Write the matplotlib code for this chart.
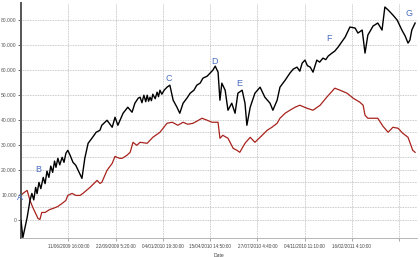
import matplotlib
matplotlib.use("Agg")
import matplotlib.pyplot as plt

# sample index (ticks every 100 samples) and values
black_x = [0, 4, 13, 19, 23, 27, 31, 34, 38, 42, 47, 51, 55, 59, 63, 67, 71, 74, 78, 82, 87, 91, 95, 99, 104, 110, 116,
           121, 125, 129, 135, 142, 150, 159, 167, 171, 182, 193, 199, 205, 216, 226, 235, 241, 248,
           252, 256, 260, 264, 267, 270, 273, 276, 279, 284, 288, 291, 294, 298, 303, 309, 315, 322, 330, 336, 343, 351, 358, 366, 372,
           379, 385, 394, 400, 406, 411, 417, 421, 425, 432, 438, 446, 453, 459, 468, 474, 478, 485, 495, 506, 516, 527, 533, 542, 548, 559, 569,
           576, 584, 590, 595, 601, 606, 612, 618, 626, 632, 639, 645, 650, 658, 664, 671,
           686, 696, 707, 713, 722, 728, 734, 745, 755, 764, 770, 777, 787, 796, 806, 813, 819, 823, 827, 834]
black_y = [-200, -7000, 1000, 7800, 10600, 8000, 13000, 10500, 15000, 12500, 17000, 14500, 19500, 17000, 21500, 19000, 23500, 21000, 24600, 22000, 25000, 23000, 26600, 27800, 25800, 23000, 21800,
           19800, 18200, 16600, 24600, 30600, 32600, 35000, 35800, 37800, 39800, 37000, 41000, 37800, 42600, 45000, 43000, 46600, 48600,
           49000, 46800, 49800, 47200, 49800, 47400, 49000, 47600, 50200, 48400, 51000, 49200, 51800, 50200, 51800, 53000, 53800, 47800, 45000, 42600, 46600, 48600, 50600, 51800, 53800,
           54600, 56600, 57400, 58600, 59800, 61400, 59000, 47800, 54600, 51800, 43800, 46600, 42600, 50600, 51800, 46600, 37800, 45000, 50600, 53000, 49000, 46600, 43800, 47800, 53000, 55800, 58600,
           60200, 61000, 59400, 62600, 63800, 61600, 61000, 59000, 63800, 63000, 64600, 64000, 65400, 66600, 67400, 69000,
           73000, 77000, 76600, 74600, 75800, 66600, 73800, 77400, 78600, 75800, 85000, 83800, 81800, 79800, 75800, 73400, 70600, 71800, 75800, 78600]

red_x = [0, 4, 13, 19, 25, 30, 36, 40, 44, 51, 61, 68, 78, 87, 95, 99, 108, 116, 125, 131, 146,
         161, 167, 171, 182, 193, 199, 203, 209, 214, 224, 231, 237, 245, 252, 267, 279, 294, 309,
         320, 332, 343, 353, 364, 372, 383, 394, 404, 417, 421, 427, 438, 449, 457, 463, 474, 485,
         495, 506, 521, 531, 542, 548, 559, 569, 580, 590, 605, 618, 633, 647, 664, 675, 690, 703,
         717, 724, 728, 734, 745, 755, 766, 777, 787, 798, 808, 819, 829, 834]
red_y = [9800, 10600, 11800, 7800, 5000, 3000, 600, 200, 3000, 3000, 4200, 4600, 5400, 6600, 7800,
         9800, 10600, 9800, 9800, 10600, 13000, 15800, 14600, 15000, 19800, 22600, 25400, 25000,
         24600, 24600, 25800, 27000, 31000, 29800, 31000, 30600, 33000, 35000, 38600, 39000, 37800,
         39000, 38200, 38600, 39400, 40600, 39800, 39000, 39000, 32600, 33800, 32600, 28600, 27800,
         27000, 30600, 33000, 31000, 33000, 35800, 37000, 38600, 40600, 42600, 43800, 45000, 45800,
         44600, 43800, 45800, 49000, 52600, 51800, 50600, 48600, 47000, 45800, 41800, 40600, 40600,
         40600, 37400, 35000, 37000, 36600, 34600, 33000, 27800, 27000]

tick_pos = [100, 200, 300, 400, 500, 600, 700, 800]
tick_labels = ["11/06/2009 16:00:00", "22/09/2009 5:20:00", "04/01/2010 19:30:00",
               "15/04/2010 14:50:00", "27/07/2010 4:40:00", "04/11/2010 11:10:00",
               "16/02/2011 4:10:00", ""]
y_ticks = [0, 10000, 20000, 30000, 40000, 50000, 60000, 70000, 80000]
y_labels = ["0", "10.000", "20.000", "30.000", "40.000", "50.000", "60.000", "70.000", "80.000"]
minor_y = [5000, 15000, 25000, 35000]

marks = ["A", "B", "C", "D", "E", "F", "G"]
marks_x = [-2, 36, 312, 410, 461, 652, 822]
marks_y = [8900, 20100, 56600, 63400, 54600, 72600, 82600]

plt.rcParams['font.family'] = ['Liberation Sans', 'DejaVu Sans']
fig = plt.figure(figsize=(4.2, 2.57), dpi=100)
ax = fig.add_axes([21/420, 1-238/257, 396/420, 235/257])

ax.set_xlim(0, 838)
ax.set_ylim(-7200, 86600)

for y in y_ticks + minor_y:
    ax.axhline(y, color='#b8b8b8', lw=0.6, ls=(0, (1, 1)), zorder=0)
for x in tick_pos:
    ax.axvline(x, color='#b8b8b8', lw=0.6, ls=(0, (1, 1)), zorder=0)

ax.plot(red_x, red_y, color='#a8231e', lw=0.9, zorder=2)
ax.plot(black_x, black_y, color='#000000', lw=1.0, zorder=3)

for m, mx, my in zip(marks, marks_x, marks_y):
    ax.text(mx, my, m, color='#4a6cc0', fontsize=6.5, ha='center', va='center', zorder=4,
            clip_on=False)

ax.set_yticks(y_ticks)
ax.set_yticklabels(y_labels)
ax.set_xticks(tick_pos)
ax.set_xticklabels(tick_labels)
ax.tick_params(axis='y', length=2, width=0.6, colors='#555555', labelsize=3.6, pad=1)
ax.tick_params(axis='x', length=2, width=0.6, colors='#999999', labelsize=3.3, pad=2,
               labelcolor='#444444')
ax.set_xlabel("Date", fontsize=3.6, color='#444444', labelpad=3)

for s in ['top', 'right']:
    ax.spines[s].set_visible(False)
ax.spines['left'].set_color('#555555')
ax.spines['left'].set_linewidth(1.4)
ax.spines['bottom'].set_color('#aaaaaa')
ax.spines['bottom'].set_linewidth(0.6)

fig.savefig("out.png", dpi=100)
